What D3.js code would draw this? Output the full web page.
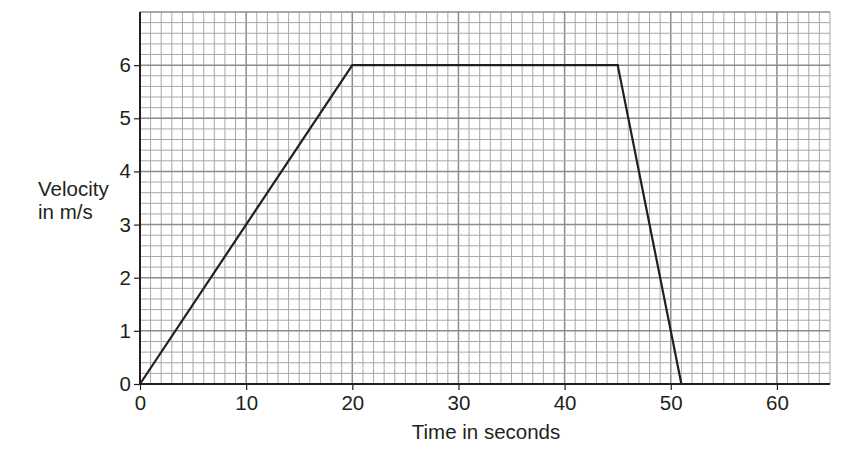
<!DOCTYPE html>
<html>
<head>
<meta charset="utf-8">
<script src="https://cdn.jsdelivr.net/npm/d3@7"></script>
<style>
  body { margin: 0; background: #fff; }
  text { font-family: "Liberation Sans", Arial, sans-serif; fill: #231f20; }
</style>
</head>
<body>
<svg id="chart" width="865" height="454"></svg>
<script>
// velocity-time graph
const times = [0, 20, 45, 51];
const velocities = [0, 6, 6, 0];
const xTicks = [0, 10, 20, 30, 40, 50, 60];
const yTicks = [0, 1, 2, 3, 4, 5, 6];
const xLabel = "Time in seconds";
const yLabel = ["Velocity", "in m/s"];

const margin = {left: 140, right: 35, top: 12, bottom: 70};
const width = 865, height = 454;
const fontSize = 20.5;

let svg = d3.select("#chart");

let x = d3.scaleLinear().domain([0, 65]).range([margin.left, width - margin.right]);
let y = d3.scaleLinear().domain([0, 7]).range([height - margin.bottom, margin.top]);

// minor grid: 1 s by 0.2 m/s
let xMinor = d3.range(0, 65.001, 1);
let yMinor = d3.range(0, 35.001, 1).map(d => d / 5);

let grid = svg.append("g");
grid.selectAll(".vx")
	.data(xMinor).enter()
	.append("line")
	.attr("x1", d => x(d)).attr("x2", d => x(d))
	.attr("y1", y(0)).attr("y2", y(7))
	.attr("stroke", d => d % 10 == 0 ? "#8c8c8c" : "#a8a8a8")
	.attr("stroke-width", d => d % 10 == 0 ? 1.5 : 1);
grid.selectAll(".hy")
	.data(yMinor).enter()
	.append("line")
	.attr("x1", x(0)).attr("x2", x(65))
	.attr("y1", d => y(d)).attr("y2", d => y(d))
	.attr("stroke", d => Math.abs(d - Math.round(d)) < 1e-6 ? "#8c8c8c" : "#a8a8a8")
	.attr("stroke-width", d => Math.abs(d - Math.round(d)) < 1e-6 ? 1.5 : 1);

// axes
let xAxis = d3.axisBottom(x).tickValues(xTicks).tickFormat(d3.format("d"))
	.tickSize(6).tickPadding(5).tickSizeOuter(0);
let yAxis = d3.axisLeft(y).tickValues(yTicks).tickFormat(d3.format("d"))
	.tickSize(6).tickPadding(3).tickSizeOuter(0);

let gx = svg.append("g").attr("transform", `translate(0,${y(0)})`).call(xAxis);
let gy = svg.append("g").attr("transform", `translate(${x(0)},0)`).call(yAxis);
[gx, gy].forEach(g => {
	g.select(".domain").attr("stroke", "#231f20").attr("stroke-width", 2);
	g.selectAll(".tick line").attr("stroke", "#231f20").attr("stroke-width", 1.2);
	g.selectAll(".tick text").attr("font-size", fontSize).attr("fill", "#231f20")
	 .attr("font-family", "Liberation Sans, Arial, sans-serif");
});
gy.select(".domain").attr("d", `M0,${y(0)}V${y(7)}`);
gx.select(".domain").attr("d", `M${x(0)},0H${x(65)}`);

// data line
let line = d3.line().x((d, i) => x(times[i])).y(d => y(d));
svg.append("path")
	.datum(velocities)
	.attr("d", line)
	.attr("fill", "none")
	.attr("stroke", "#231f20")
	.attr("stroke-width", 2.2)
	.attr("stroke-linejoin", "miter");

// labels
svg.append("text")
	.attr("x", 486)
	.attr("y", 439)
	.attr("text-anchor", "middle")
	.attr("font-size", fontSize)
	.text(xLabel);
svg.selectAll(".ylab")
	.data(yLabel).enter()
	.append("text")
	.attr("class", "ylab")
	.attr("x", 38)
	.attr("y", (d, i) => 196 + i * 23)
	.attr("font-size", fontSize)
	.text(d => d);
</script>
</body>
</html>
